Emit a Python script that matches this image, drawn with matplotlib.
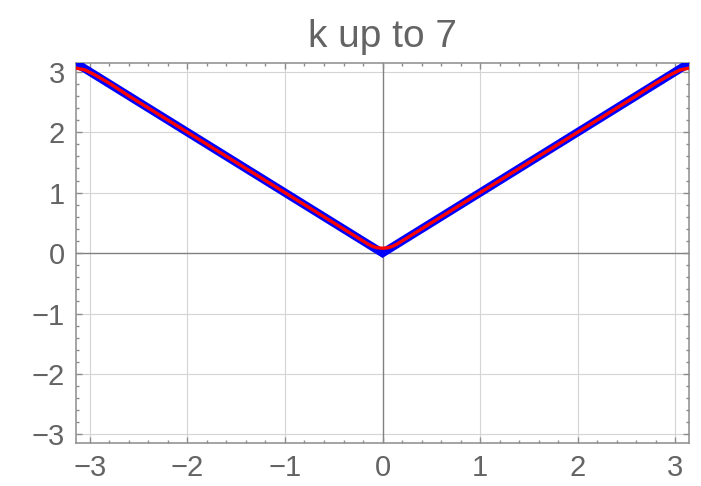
"""|x| on [-pi, pi] and its cosine partial sum up to k = 7."""
import matplotlib
matplotlib.use("Agg")
import matplotlib.pyplot as plt
from matplotlib.ticker import MultipleLocator

PI = 3.14159

# exact function |x|
abs_x = [-PI, 0.0, PI]
abs_y = [PI, 0.0, PI]

# partial sum
sum_x = [-3.1416, -3.05, -2.95, -2.8, -2.6, -2.0, -1.0, -0.4, -0.3, -0.2,
         -0.15, -0.1, -0.05, 0.0, 0.05, 0.1, 0.15, 0.2, 0.3, 0.4, 1.0, 2.0,
         2.6, 2.8, 2.95, 3.05, 3.1416]
sum_y = [3.06, 3.03, 2.95, 2.81, 2.60, 2.00, 1.00, 0.40, 0.30, 0.20,
         0.15, 0.11, 0.087, 0.08, 0.087, 0.11, 0.15, 0.20, 0.30, 0.40, 1.00, 2.00,
         2.60, 2.81, 2.95, 3.03, 3.06]

ticks = [-3, -2, -1, 0, 1, 2, 3]
tick_labels = ["\u22123", "\u22122", "\u22121", "0", "1", "2", "3"]

plt.rcParams["font.family"] = ["Liberation Sans", "DejaVu Sans"]
text_grey = "#646464"
frame_grey = "#8c8c8c"

fig = plt.figure(figsize=(7.01, 4.86), dpi=100)
ax = fig.add_axes([0.1084, 0.0885, 0.8746, 0.7815])

ax.set_xlim(-PI, PI)
ax.set_ylim(-PI, PI)

for t in ticks:
    if t == 0:
        continue
    ax.axvline(t, color="#d4d4d4", lw=0.8, zorder=0)
    ax.axhline(t, color="#d4d4d4", lw=0.8, zorder=0)
ax.axvline(0, color="#808080", lw=1.0, zorder=1)
ax.axhline(0, color="#808080", lw=1.0, zorder=1)

ax.plot(abs_x, abs_y, color="#0000ff", lw=6.0, solid_joinstyle="miter",
        solid_capstyle="butt", zorder=3)
ax.plot(sum_x, sum_y, color="#ff0000", lw=2.4, solid_joinstyle="round", zorder=4)

ax.set_xticks(ticks)
ax.set_xticklabels(tick_labels)
ax.set_yticks(ticks)
ax.set_yticklabels(tick_labels)
ax.xaxis.set_minor_locator(MultipleLocator(0.2))
ax.yaxis.set_minor_locator(MultipleLocator(0.2))
ax.tick_params(which="both", direction="in", top=True, right=True,
               color=frame_grey, width=1.0, labelcolor=text_grey, labelsize=21)
ax.tick_params(which="major", length=4.5)
ax.tick_params(which="minor", length=2.5)
ax.tick_params(axis="x", pad=8)
ax.tick_params(axis="y", pad=8)

for s in ax.spines.values():
    s.set_color(frame_grey)
    s.set_linewidth(1.1)

ax.set_title("k up to 7", fontsize=28, color=text_grey, pad=12)

fig.savefig("out.png", dpi=100)
